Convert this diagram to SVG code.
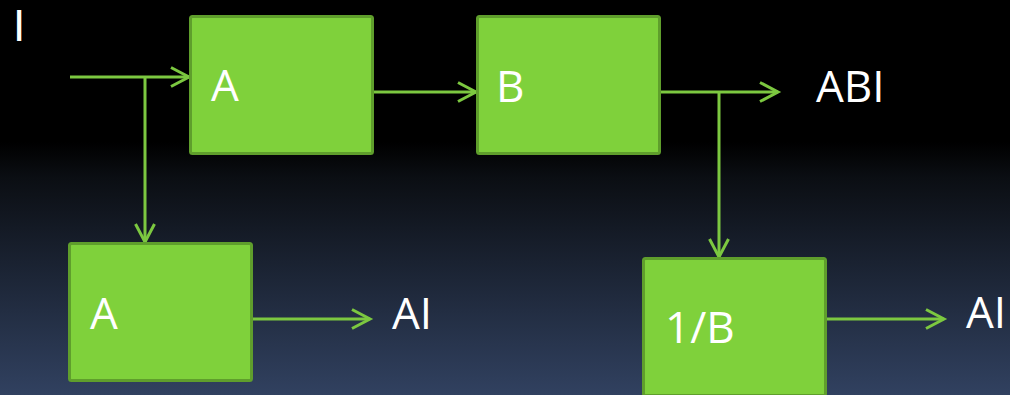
<svg xmlns="http://www.w3.org/2000/svg" width="1010" height="395" viewBox="0 0 1010 395">
<defs>
<linearGradient id="bg" x1="0" y1="0" x2="0" y2="1">
<stop offset="0" stop-color="#000000"/>
<stop offset="0.36" stop-color="#000000"/>
<stop offset="0.45" stop-color="#0b0e13"/>
<stop offset="1" stop-color="#314160"/>
</linearGradient>
<marker id="arr" markerUnits="userSpaceOnUse" markerWidth="24" markerHeight="24" viewBox="-20 -12 24 24" refX="0" refY="0" orient="auto">
<path d="M-18,-9.5 L0,0 L-18,9.5" fill="none" stroke="#7cc840" stroke-width="3"/>
</marker>
</defs>
<style>
.box{fill:#7fd13b;stroke:#5f9e2c;stroke-width:3}
.lbl{font-family:"Open Sans","Noto Sans",sans-serif;font-size:44px;fill:#ffffff}
.con{fill:none;stroke:#7cc840;stroke-width:3}
</style>
<rect x="0" y="0" width="1010" height="395" fill="url(#bg)"/>
<g id="connectors">
<path class="con" d="M70,77 H189" marker-end="url(#arr)"/>
<path class="con" d="M145,77 V242" marker-end="url(#arr)"/>
<path class="con" d="M372,92 H476" marker-end="url(#arr)"/>
<path class="con" d="M659,92 H778" marker-end="url(#arr)"/>
<path class="con" d="M719,92 V257" marker-end="url(#arr)"/>
<path class="con" d="M251,319 H370" marker-end="url(#arr)"/>
<path class="con" d="M826,319 H944" marker-end="url(#arr)"/>
</g>
<g id="input"><text class="lbl" x="13" y="41" style="font-family:'Liberation Sans',sans-serif">I</text></g>
<g id="nodeA1"><rect class="box" x="190.5" y="16.5" width="182" height="137" rx="2"/><text class="lbl" x="211" y="101">A</text></g>
<g id="nodeB"><rect class="box" x="477.5" y="16.5" width="182" height="137" rx="2"/><text class="lbl" x="496" y="102">B</text></g>
<g id="outABI"><text class="lbl" x="816" y="102">ABI</text></g>
<g id="nodeA2"><rect class="box" x="69.5" y="243.5" width="182" height="137" rx="2"/><text class="lbl" x="90" y="329">A</text></g>
<g id="outAI1"><text class="lbl" x="392" y="329">AI</text></g>
<g id="nodeInvB"><rect class="box" x="643.5" y="258.5" width="182" height="137" rx="2"/><text class="lbl" x="665" y="343">1/B</text></g>
<g id="outAI2"><text class="lbl" x="966" y="328">AI</text></g>
</svg>
